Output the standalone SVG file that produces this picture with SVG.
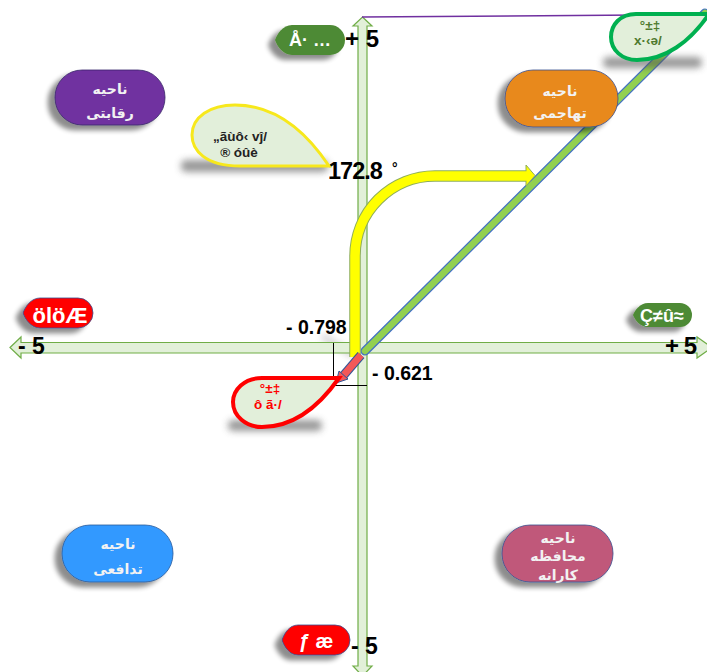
<svg xmlns="http://www.w3.org/2000/svg" width="707" height="672" viewBox="0 0 707 672">
<style>
.axis{fill:#e2f0d9;stroke:#70ad47;stroke-width:1.2}
.num{font-family:"Liberation Sans",Arial,sans-serif;font-weight:bold;fill:#000}
.lbl{font-family:"Liberation Sans",Arial,sans-serif;font-weight:bold;fill:#fff;text-anchor:middle}
.fa{font-family:"DejaVu Sans",sans-serif;font-weight:bold;fill:#f2f2f2;text-anchor:middle;font-size:14px}
.leaf{fill:#e2efda}
.lt{font-family:"Liberation Sans",Arial,sans-serif;font-weight:bold;text-anchor:middle;font-size:13.5px}
.pill{stroke:#3a4f8f;stroke-width:0.8}
</style>
<defs>
<filter id="sh" x="-30%" y="-30%" width="160%" height="180%">
<feGaussianBlur in="SourceAlpha" stdDeviation="2.5"/>
<feOffset dx="-7" dy="5"/>
<feComponentTransfer><feFuncA type="linear" slope="0.45"/></feComponentTransfer>
<feMerge><feMergeNode/><feMergeNode in="SourceGraphic"/></feMerge>
</filter>
<filter id="blur" x="-20%" y="-100%" width="140%" height="300%"><feGaussianBlur stdDeviation="3.5"/></filter>
</defs>
<rect width="707" height="672" fill="#fff"/>

<g id="connectors">
<line x1="350" y1="328" x2="487" y2="328" stroke="#888" stroke-width="3" opacity="0.45" filter="url(#blur)"/>
<line x1="322" y1="336" x2="355" y2="356" stroke="#888" stroke-width="6" opacity="0.4" filter="url(#blur)"/>
<path class="axis" d="M10,347.5 L21,337 L21,342.5 L697,342.5 L697,337 L712,347.5 L697,358 L697,353 L21,353 L21,358 Z"/>
<path class="axis" d="M362.5,17 L372,26 L367,26 L367,666 L372,666 L362.5,676 L353,666 L358,666 L358,26 L353,26 Z"/>
<line x1="362" y1="17" x2="707" y2="14.5" stroke="#7030a0" stroke-width="1.5"/>
<line x1="365" y1="351" x2="705" y2="13" stroke="#4472c4" stroke-width="9" stroke-linecap="round"/>
<line x1="365" y1="351" x2="705" y2="13" stroke="#92d050" stroke-width="6.5" stroke-linecap="round"/>
<path d="M355,357 V256 A80,80 0 0 1 435,176 H526" fill="none" stroke="#8fae5a" stroke-width="11.5"/>
<path d="M526,165 L535,175.5 L526,186 Z" fill="#ffff00" stroke="#8fae5a" stroke-width="1"/>
<path d="M355,357 V256 A80,80 0 0 1 435,176 H527" fill="none" stroke="#ffff00" stroke-width="9.5"/>
<line x1="361" y1="355" x2="343" y2="376" stroke="#2f5597" stroke-width="9"/>
<line x1="361" y1="355" x2="343" y2="376" stroke="#f35858" stroke-width="7"/>
<path d="M336,383 L339,371 L348,379 Z" fill="#f35858" stroke="#2f5597" stroke-width="1"/>
<line x1="333.5" y1="343" x2="333.5" y2="379" stroke="#000" stroke-width="1"/>
<line x1="335" y1="385.5" x2="367" y2="385.5" stroke="#000" stroke-width="1"/>
</g>

<g id="value-labels">
<text class="num" x="286" y="334" font-size="19.5">- 0.798</text>
<text class="num" x="372" y="380" font-size="19.5">- 0.621</text>
<text class="num" x="328" y="179" font-size="23.5" letter-spacing="-1">172.8</text>
<text class="num" x="392" y="173" font-size="14" font-weight="normal">°</text>
</g>

<g id="leaf-yellow">
<rect x="181" y="160" width="147" height="12" rx="5" fill="#555" opacity="0.6" filter="url(#blur)"/>
<path class="leaf" d="M329,166 L240,166 C205,166 192,150 192,135 C192,117 210,105 235,105 C275,105 305,130 329,166 Z" stroke="#f7e81c" stroke-width="3"/>
<text class="lt" fill="#222" x="240" y="141">„ãùô‹ vĵ/</text>
<text class="lt" fill="#222" x="239" y="157">® óûè</text>
</g>

<g id="leaf-green">
<rect x="603" y="57" width="99" height="11" rx="5" fill="#555" opacity="0.6" filter="url(#blur)"/>
<path class="leaf" d="M709,14 L636,14 C620,14 611,25 611,37 C611,50 622,60 637,60 C665,60 690,42 709,14 Z" stroke="#00b050" stroke-width="4"/>
<text class="lt" fill="#4f7a2f" x="650" y="30">°±‡</text>
<text class="lt" fill="#4f7a2f" x="648" y="45">x·‹ə/</text>
</g>

<g id="leaf-red">
<rect x="228" y="420" width="94" height="11" rx="5" fill="#555" opacity="0.6" filter="url(#blur)"/>
<path class="leaf" d="M339,378 L262,378 C244,378 233,390 233,402 C233,416 246,427 262,427 C295,427 320,405 339,378 Z" stroke="#ff0000" stroke-width="4"/>
<text class="lt" fill="#ff0000" x="270" y="393">°±‡</text>
<text class="lt" fill="#ff0000" x="268" y="409">ô ã·/</text>
</g>

<g id="axis-top">
<path filter="url(#sh)" d="M292,25 H330 A15,15 0 0 1 330,55 H292 C283,55 277,46 275,40 C277,34 283,25 292,25 Z" fill="#4e8a35"/>
<text class="lbl" x="310" y="46" font-size="18">Å· …</text>
<text class="num" x="345" y="47" font-size="24">+ 5</text>
</g>

<g id="axis-left">
<path class="pill" filter="url(#sh)" d="M40,298 H78 A15,15 0 0 1 78,328 H40 C31,328 25,319 23,313 C25,307 31,298 40,298 Z" fill="#ff0000"/>
<text class="lbl" x="60" y="323" font-size="22">ölöÆ</text>
<text class="num" x="18" y="354" font-size="23">- 5</text>
</g>

<g id="axis-right">
<path filter="url(#sh)" d="M648,303 H680 A12,12 0 0 1 680,327 H648 C640,327 635,320 633,315 C635,310 640,303 648,303 Z" fill="#4e8a35"/>
<text class="lbl" x="662" y="322" font-size="18">Ç≠û≈</text>
<text class="num" x="665" y="354" font-size="24" letter-spacing="-1">+ 5</text>
</g>

<g id="axis-bottom">
<text class="num" x="351" y="654" font-size="23">- 5</text>
<path class="pill" filter="url(#sh)" d="M298,625 H335 A15,15 0 0 1 335,655 H298 C289,655 284,646 282,640 C284,634 289,625 298,625 Z" fill="#ff0000"/>
<text class="lbl" x="316" y="648" font-size="20">ƒ æ</text>
</g>

<g id="node-competitive">
<rect x="55" y="70" width="110" height="55" rx="27" fill="#7030a0" stroke="#3a2a6a" stroke-width="0.8" filter="url(#sh)"/>
<text class="fa" x="110" y="94">ناحیه</text>
<text class="fa" x="110" y="118">رقابتی</text>
</g>

<g id="node-aggressive">
<rect x="505" y="70" width="113" height="57" rx="28" fill="#e8891b" stroke="#3a4f8f" stroke-width="0.8" filter="url(#sh)"/>
<text class="fa" x="560" y="96">ناحیه</text>
<text class="fa" x="560" y="118">تهاجمی</text>
</g>

<g id="node-defensive">
<rect x="62" y="525" width="111" height="57" rx="28" fill="#3399ff" stroke="#2a5a9a" stroke-width="0.8" filter="url(#sh)"/>
<text class="fa" x="118" y="549">ناحیه</text>
<text class="fa" x="118" y="574">تدافعی</text>
</g>

<g id="node-conservative">
<rect x="502" y="525" width="111" height="57" rx="28" fill="#c0587a" stroke="#3a4f8f" stroke-width="0.8" filter="url(#sh)"/>
<text class="fa" x="558" y="543">ناحیه</text>
<text class="fa" x="558" y="561">محافظه</text>
<text class="fa" x="558" y="580">کارانه</text>
</g>
</svg>
